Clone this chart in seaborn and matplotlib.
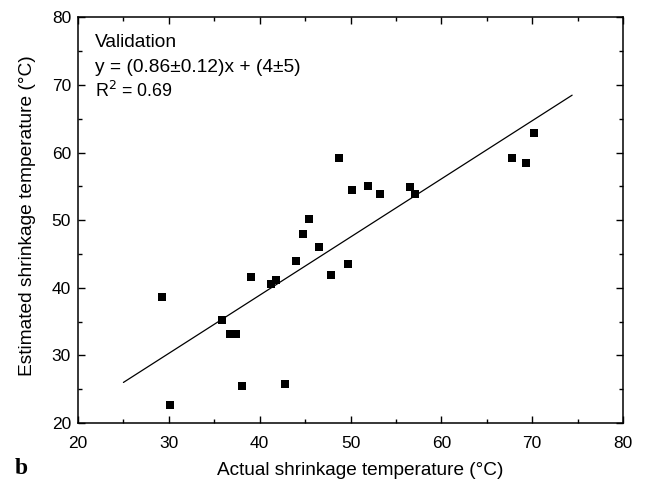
import matplotlib
matplotlib.use("Agg")
import matplotlib.pyplot as plt
import seaborn as sns
import numpy as np
import pandas as pd
from matplotlib.ticker import MultipleLocator

actual = [29.2, 30.1, 35.9, 36.7, 37.4, 38.1, 39.1, 41.3, 41.8, 42.8, 44.0, 44.8,
          45.4, 46.5, 47.9, 49.7, 48.7, 50.2, 51.9, 53.3, 56.6, 57.15, 67.8, 69.3, 70.2]
estimated = [38.6, 22.7, 35.3, 33.1, 33.1, 25.4, 41.6, 40.5, 41.1, 25.7, 44.0, 47.9,
             50.1, 46.0, 41.9, 43.5, 59.2, 54.4, 55.1, 53.9, 54.9, 53.8, 59.2, 58.5, 62.9]
fit_slope = 0.86
fit_intercept = 4.5
fit_range = [25.0, 74.4]

sns.set_theme(style="ticks")
plt.rcParams["font.family"] = ["Liberation Sans", "DejaVu Sans"]
plt.rcParams["text.color"] = "black"
plt.rcParams["axes.labelcolor"] = "black"
plt.rcParams["xtick.color"] = "black"
plt.rcParams["ytick.color"] = "black"

df = pd.DataFrame({"actual": actual, "estimated": estimated})
line_df = pd.DataFrame({"x": fit_range,
                        "y": [fit_slope * v + fit_intercept for v in fit_range]})

fig = plt.figure(figsize=(6.49, 4.86), dpi=100)
ax = fig.add_axes([78 / 649, 1 - 423 / 486, 545 / 649, 405.7 / 486])

sns.lineplot(data=line_df, x="x", y="y", ax=ax, color="black", linewidth=0.9)
sns.scatterplot(data=df, x="actual", y="estimated", ax=ax, marker="s", s=28,
                color="black", edgecolor="black", linewidth=0)

ax.set_xlim(20, 80)
ax.set_ylim(20, 80)
ax.xaxis.set_major_locator(MultipleLocator(10))
ax.xaxis.set_minor_locator(MultipleLocator(5))
ax.yaxis.set_major_locator(MultipleLocator(10))
ax.yaxis.set_minor_locator(MultipleLocator(5))
ax.tick_params(which="both", direction="in", top=True, right=True,
               labelsize=12.5, color="black", width=1.0)
ax.tick_params(which="major", length=5)
ax.tick_params(which="minor", length=3)
ax.tick_params(axis="x", which="major", pad=9)
ax.tick_params(axis="y", which="major", pad=5)
for s in ax.spines.values():
    s.set_linewidth(1.1)
    s.set_color("black")

xl = ax.set_xlabel("Actual shrinkage temperature (°C)", fontsize=12.5)
yl = ax.set_ylabel("Estimated shrinkage temperature (°C)", fontsize=12.5)

t1 = ax.text(0.031, 0.926, "Validation", transform=ax.transAxes, fontsize=12.5,
             va="baseline", ha="left")
t2 = ax.text(0.031, 0.864, "y = (0.86±0.12)x + (4±5)", transform=ax.transAxes,
             fontsize=12.5, va="baseline", ha="left")
t3 = ax.text(0.031, 0.803, "R$^2$ = 0.69", transform=ax.transAxes, fontsize=12.5,
             va="baseline", ha="left")

fig.text(21 / 649, 1 - 468 / 486, "b", fontsize=17, fontweight="bold",
         family=["Liberation Serif", "DejaVu Serif"], va="center", ha="center")

renderer = fig.canvas.get_renderer()
def fit_width(t, target, horizontal=True):
    for _ in range(3):
        bb = t.get_window_extent(renderer)
        w = bb.width if horizontal else bb.height
        t.set_fontsize(t.get_fontsize() * target / w)
fit_width(xl, 287)
fit_width(yl, 322, horizontal=False)
fit_width(t1, 83)
fit_width(t2, 205)
fit_width(t3, 78)

ax.xaxis.set_label_coords((360.5 - 78) / 545, (423 - 462) / 405.7)
ax.yaxis.set_label_coords((36 - 78) / 545, (423 - 216) / 405.7)

fig.savefig("out.png", dpi=100)
